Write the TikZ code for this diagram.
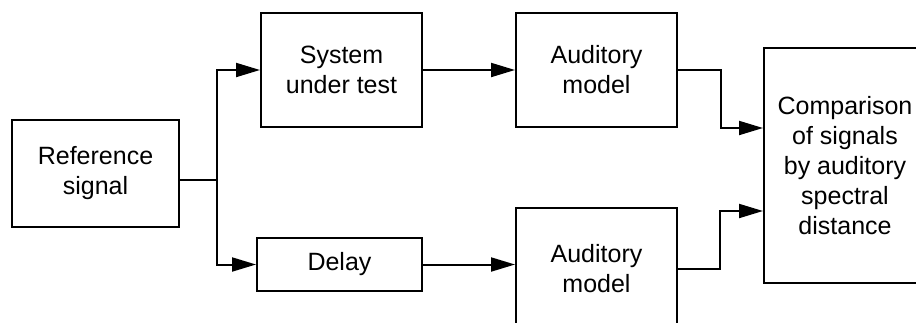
\documentclass[tikz,border=0pt]{standalone}
\usepackage{fontspec}
\setmainfont{Liberation Sans}
\usetikzlibrary{arrows.meta}

\begin{document}
\begin{tikzpicture}[x=0.5pt, y=-0.5pt,
    block/.style={draw, line width=1pt, align=center, inner sep=0pt,
        font=\fontsize{12.5}{15}\selectfont},
    link/.style={line width=1pt},
    feed/.style={link, -{Triangle[length=12pt, width=7pt]}}]
    \clip (0,0) rectangle (916,322);

    % Blocks
    \node[block, minimum width=83.5pt, minimum height=53.5pt] (ref) at (95.5,173.5) {Reference\\signal};
    \node[block, minimum width=80.5pt, minimum height=57pt] (sut) at (341.5,70) {System\\under test};
    \node[block, minimum width=82.5pt, minimum height=26.5pt] (delay) at (339.5,264.5) {Delay};
    \node[block, minimum width=80.5pt, minimum height=57pt] (audA) at (596.5,70) {Auditory\\model};
    \node[block, minimum width=80.5pt, minimum height=61pt] (audB) at (596.5,269) {Auditory\\model};
    \node[block, minimum width=81pt, minimum height=117.5pt] (cmp) at (845,165.5)
        {Comparison\\of signals\\by auditory\\spectral\\distance};

    % Corner points of the wiring
    \coordinate (split) at (217,180);
    \coordinate (joinA) at (721,128);
    \coordinate (joinB) at (720,211);

    % Reference signal splits into both paths
    \draw[link] (ref.east |- split) -- (split);
    \draw[feed] (split) |- (sut.west);
    \draw[feed] (split) |- (delay.west);

    % Through the auditory models
    \draw[feed] (sut.east) -- (audA.west);
    \draw[feed] (delay.east) -- (delay.east -| audB.west);

    % Into the comparison
    \draw[feed] (audA.east) -| (joinA) -- (joinA -| cmp.west);
    \draw[feed] (audB.east) -| (joinB) -- (joinB -| cmp.west);
\end{tikzpicture}
\end{document}
